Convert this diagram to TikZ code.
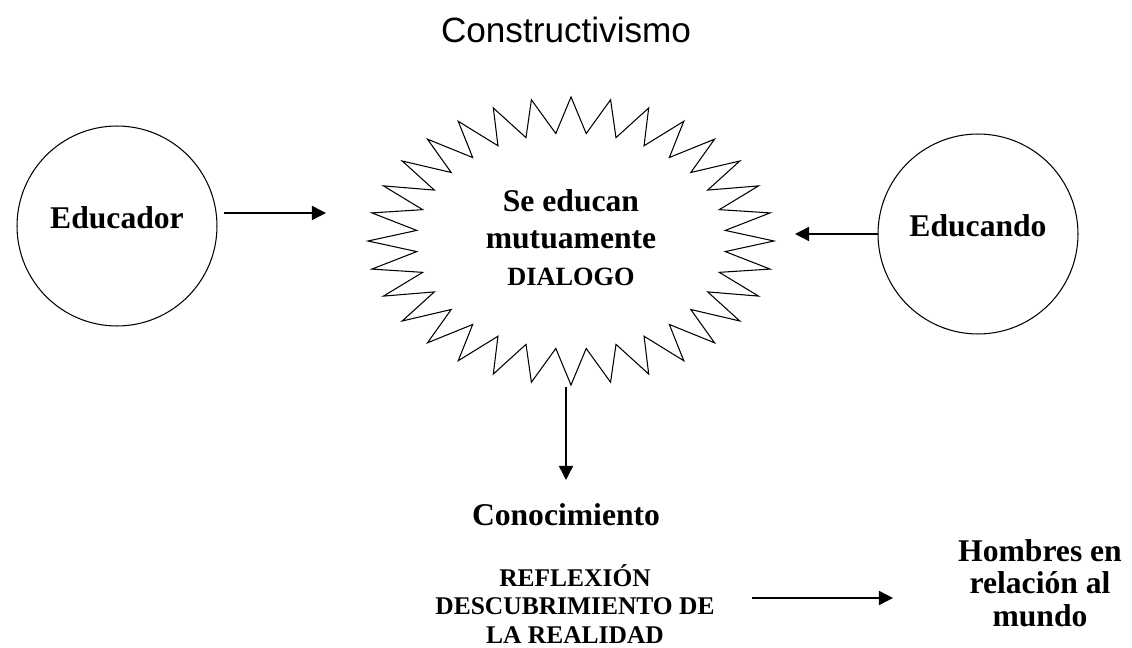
\documentclass[tikz,border=0pt]{standalone}
\usepackage{fontspec}
\setmainfont{Liberation Serif}
\newfontfamily\titlefont{Liberation Sans}
\usetikzlibrary{arrows.meta, positioning}

\tikzset{
  person/.style={draw, circle, minimum size=4cm, inner sep=0pt, line width=0.6pt,
                 text depth=10pt, font=\bfseries\fontsize{18}{21}\selectfont},
  lbl/.style={align=center, inner sep=0pt, font=\bfseries\fontsize{18}{18.5}\selectfont},
  capslbl/.style={align=center, inner sep=0pt, font=\bfseries\fontsize{14.5}{16}\selectfont},
  burstline/.style={line width=0.6pt, line join=miter},
  flow/.style={-{Triangle[length=8pt, width=8pt]}, line width=0.8pt},
}

\begin{document}
\begin{tikzpicture}[x=0.02cm, y=-0.02cm]
\useasboundingbox (0,0) rectangle (1132,648);

% Title
\node[font=\titlefont\fontsize{20}{24}\selectfont] (title) at (566, 30) {Constructivismo};

% Circles
\node[person] (educador) at (117, 226) {Educador};
\node[person] (educando) at (978, 234) {Educando};

% Starburst
\begin{scope}[shift={(571,241)}]
\draw[burstline] (0:203 and 144)
  \foreach \i in {0,...,31} { -- ({\i*11.25+5.625}:155 and 108) -- ({(\i+1)*11.25}:203 and 144) } -- cycle;
\end{scope}
\node[lbl, font=\bfseries\fontsize{18}{21}\selectfont] (burst) at (571, 238)
  {Se educan\\ mutuamente\\ {\fontsize{15}{18}\selectfont DIALOGO}};

% Lower texts
\node[lbl] (conoc) at (566, 515) {Conocimiento};
\node[capslbl] (reflex) at (575, 604) {REFLEXIÓN\\ DESCUBRIMIENTO DE\\ LA REALIDAD};
\node[lbl] (hombres) at (1040, 583) {Hombres en\\ relación al\\ mundo};

% Arrow ends
\coordinate (a1s) at (224, 213);
\coordinate (a1e) at (326, 213);
\coordinate (a2e) at (795, 234);
\coordinate (a3s) at (566, 387);
\coordinate (a3e) at (566, 480);
\coordinate (a4s) at (752, 598);
\coordinate (a4e) at (893, 598);

% Arrows
\draw[flow] (a1s) -- (a1e);
\draw[flow] (educando.west) -- (a2e);
\draw[flow] (a3s) -- (a3e);
\draw[flow] (a4s) -- (a4e);

\end{tikzpicture}
\end{document}
